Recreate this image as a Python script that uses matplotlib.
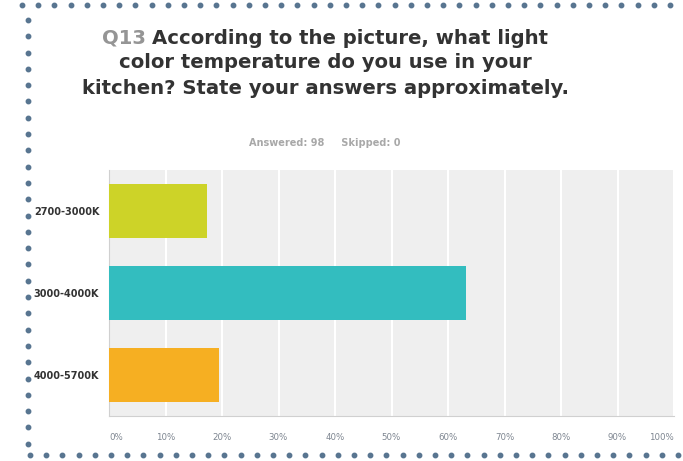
import matplotlib
matplotlib.use("Agg")
import matplotlib.pyplot as plt
import numpy as np
from matplotlib.lines import Line2D

categories = ["2700-3000K", "3000-4000K", "4000-5700K"]
values = [17.35, 63.27, 19.39]
colors = ["#cdd328", "#33bdbf", "#f6af22"]
xticks = [0, 10, 20, 30, 40, 50, 60, 70, 80, 90, 100]
xticklabels = [f"{t}%" for t in xticks]
title_q = "Q13"
title_lines = ["According to the picture, what light",
               "color temperature do you use in your",
               "kitchen? State your answers approximately."]
subtitle = "Answered: 98     Skipped: 0"

plt.rcParams['font.family'] = ['DejaVu Sans']
W, H = 683, 461
fig = plt.figure(figsize=(W / 100, H / 100), dpi=100)

ax = fig.add_axes([109 / W, 1 - 416 / H, (674 - 109) / W, (416 - 170) / H])
ax.set_facecolor("#efefef")
y = np.arange(len(categories))
ax.barh(y, values, height=0.65, color=colors, zorder=3)
ax.set_ylim(len(categories) - 0.5, -0.5)
ax.set_xlim(0, 100)
ax.set_xticks(xticks)
ax.xaxis.grid(True, color="white", linewidth=1.5, zorder=1)
ax.set_axisbelow(True)
ax.set_yticks(y)
ax.set_yticklabels(categories, fontsize=7, fontweight="bold", color="#333333")
ax.set_xticklabels(xticklabels, fontsize=6.2, color="#7d8590")
for i, lab in enumerate(ax.get_xticklabels()):
    if i == 0:
        lab.set_ha("left")
    elif i == len(xticks) - 1:
        lab.set_ha("right")
ax.tick_params(axis="x", length=0, pad=12)
ax.tick_params(axis="y", length=0, pad=7)
for s in ["top", "right"]:
    ax.spines[s].set_visible(False)
ax.spines["left"].set_color("#d0d0d0")
ax.spines["bottom"].set_color("#d0d0d0")

# Title with grey "Q13"
fig.canvas.draw()
r = fig.canvas.get_renderer()
cx = 325
fs = 14.1
ys = [38, 62, 88]
tq = fig.text(0, 0, title_q + " ", fontsize=fs, fontweight="bold", color="#959595")
t1 = fig.text(0, 0, title_lines[0], fontsize=fs, fontweight="bold", color="#333333")
wq = tq.get_window_extent(r).width
w1 = t1.get_window_extent(r).width
x0 = cx - (wq + w1) / 2
tq.set_position((x0 / W, 1 - ys[0] / H)); tq.set_va("center")
t1.set_position(((x0 + wq) / W, 1 - ys[0] / H)); t1.set_va("center")
for line, yy in zip(title_lines[1:], ys[1:]):
    fig.text(cx / W, 1 - yy / H, line, fontsize=fs, fontweight="bold",
             color="#333333", ha="center", va="center")

fig.text(325 / W, 1 - 143 / H, subtitle, fontsize=7, fontweight="bold",
         color="#a8a8a8", ha="center", va="center")

# dotted border
dot_kw = dict(marker="o", linestyle="none", markersize=3.2, color="#587590",
              transform=fig.transFigure)
tx = np.arange(22, W, 16.2)
fig.add_artist(Line2D(tx / W, np.full_like(tx, 1 - 5 / H), **dot_kw))
ly = np.arange(20, 452, 16.3)
fig.add_artist(Line2D(np.full_like(ly, 28 / W), 1 - ly / H, **dot_kw))
bx = np.arange(30, W, 16.2)
fig.add_artist(Line2D(bx / W, np.full_like(bx, 1 - 455 / H), **dot_kw))

fig.savefig("out.png", dpi=100)
